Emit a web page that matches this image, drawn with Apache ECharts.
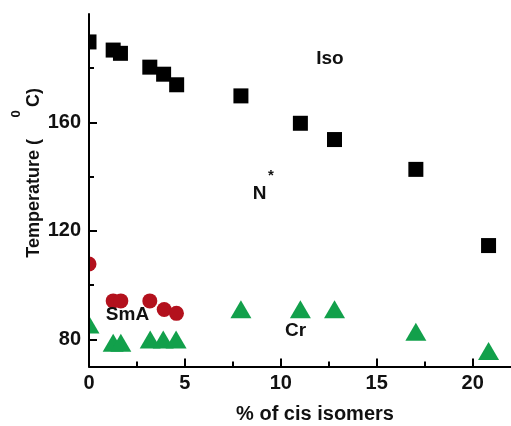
<!DOCTYPE html>
<html>
<head>
<meta charset="utf-8">
<script src="https://cdn.jsdelivr.net/npm/echarts@6/dist/echarts.min.js"></script>
<style>html,body{margin:0;padding:0;background:#fff;}#c{width:511px;height:426px;}</style>
</head>
<body>
<div id="c"></div>
<script>
// Iso (clearing) temperatures – black squares
const isoX = [0, 1.26, 1.64, 3.17, 3.89, 4.57, 7.92, 11.02, 12.80, 17.04, 20.83];
const isoY = [189.7, 186.7, 185.5, 180.4, 177.8, 173.9, 169.8, 159.7, 153.7, 142.7, 114.6];
// SmA transition – red circles
const smaX = [0, 1.26, 1.66, 3.17, 3.92, 4.56];
const smaY = [107.8, 94.2, 94.2, 94.2, 91.0, 89.6];
// Cr (melting) – green triangles
const crX = [0, 1.26, 1.66, 3.19, 3.87, 4.54, 7.92, 11.02, 12.80, 17.04, 20.83];
const crY = [85.5, 78.8, 78.8, 80.0, 80.0, 80.0, 91.1, 91.1, 91.1, 82.8, 75.7];
// axis ticks
const xLabels = [0, 5, 10, 15, 20];
const xMajorTicks = [5, 10, 15, 20];
const xMinorTicks = [2.5, 7.5, 12.5, 17.5];
const yLabels = [80, 120, 160];
const yMinorTicks = [100, 140, 180];

const FONT = '"Liberation Sans", Arial, sans-serif';
const zip = (xs, ys) => xs.map((x, i) => [x, ys[i]]);

const chart = echarts.init(document.getElementById('c'), null, {renderer: 'canvas'});
const axisLineStyle = {color: '#000', width: 2};
function txt(text, x, y, size, extra) {
  return Object.assign({
    type: 'text', x: x, y: y, z: 100,
    style: {text: text, fill: '#111', fontSize: size, fontWeight: 'bold', fontFamily: FONT,
            align: 'center', verticalAlign: 'middle', textAlign: 'center', textVerticalAlign: 'middle'}
  }, extra || {});
}
chart.setOption({
  animation: false,
  backgroundColor: '#fff',
  grid: {left: 89, top: 14, width: 424, height: 352.5, containLabel: false},
  xAxis: [{
    type: 'value', min: 0, max: 22, position: 'bottom', z: 10,
    axisLine: {show: true, onZero: false, lineStyle: axisLineStyle},
    axisTick: {show: true, inside: true, length: 8, lineStyle: {color: '#000', width: 2}, customValues: xMajorTicks},
    axisLabel: {show: true, margin: 7, color: '#111', fontSize: 20, fontWeight: 'bold', fontFamily: FONT, customValues: xLabels},
    splitLine: {show: false}
  }, {
    type: 'value', min: 0, max: 22, position: 'bottom', z: 10,
    axisLine: {show: false, onZero: false},
    axisTick: {show: true, inside: true, length: 5, lineStyle: {color: '#000', width: 2}, customValues: xMinorTicks},
    axisLabel: {show: false},
    splitLine: {show: false}
  }],
  yAxis: [{
    type: 'value', min: 70, max: 200, position: 'left', z: 10,
    axisLine: {show: true, onZero: false, lineStyle: axisLineStyle},
    axisTick: {show: true, inside: true, length: 8, lineStyle: {color: '#000', width: 2}, customValues: yLabels},
    axisLabel: {show: true, margin: 8, color: '#111', fontSize: 20, fontWeight: 'bold', fontFamily: FONT, customValues: yLabels},
    splitLine: {show: false}
  }, {
    type: 'value', min: 70, max: 200, position: 'left', z: 10,
    axisLine: {show: false, onZero: false},
    axisTick: {show: true, inside: true, length: 5, lineStyle: {color: '#000', width: 2}, customValues: yMinorTicks},
    axisLabel: {show: false},
    splitLine: {show: false}
  }],
  series: [{
    name: 'Cr', type: 'scatter', clip: true, xAxisIndex: 0, yAxisIndex: 0,
    symbol: 'triangle', symbolSize: [21, 18],
    itemStyle: {color: '#12a04b', opacity: 1},
    data: zip(crX, crY), z: 2
  }, {
    name: 'SmA', type: 'scatter', clip: true, xAxisIndex: 0, yAxisIndex: 0,
    symbol: 'circle', symbolSize: 15,
    itemStyle: {color: '#b3111d', opacity: 1},
    data: zip(smaX, smaY), z: 3
  }, {
    name: 'Iso', type: 'scatter', clip: true, xAxisIndex: 0, yAxisIndex: 0,
    symbol: 'rect', symbolSize: 15,
    itemStyle: {color: '#000', opacity: 1},
    data: zip(isoX, isoY), z: 4
  }],
  graphic: [
    // white mask left of the plot area, so markers sitting on x = 0 are cut at the axis
    {type: 'rect', z: 5, shape: {x: 0, y: 0, width: 88, height: 370}, style: {fill: '#fff'}},
    txt('Iso', 330, 59, 19),
    txt('N', 259.5, 193.5, 19),
    txt('*', 271, 176, 15),
    txt('SmA', 127.5, 315, 19),
    txt('Cr', 295.5, 331, 19),
    txt('% of cis isomers', 315, 414, 20),
    {type: 'text', x: 34, y: 139, rotation: Math.PI / 2, z: 100,
     style: {text: 'Temperature (', fill: '#111', fontSize: 18, fontWeight: 'bold', fontFamily: FONT,
             align: 'right', verticalAlign: 'middle', textAlign: 'right', textVerticalAlign: 'middle'}},
    {type: 'text', x: 34, y: 107, rotation: Math.PI / 2, z: 100,
     style: {text: 'C)', fill: '#111', fontSize: 18, fontWeight: 'bold', fontFamily: FONT,
             align: 'left', verticalAlign: 'middle', textAlign: 'left', textVerticalAlign: 'middle'}},
    txt('0', 16, 114, 13, {rotation: Math.PI / 2})
  ]
});
</script>
</body>
</html>
